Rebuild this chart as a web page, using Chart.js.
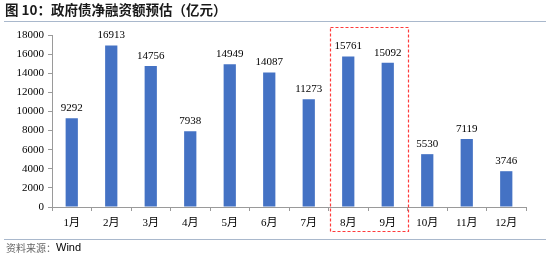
<!DOCTYPE html>
<html><head><meta charset="utf-8">
<script src="https://cdn.jsdelivr.net/npm/chart.js@4/dist/chart.umd.min.js"></script>
<style>html,body{margin:0;padding:0;background:#fff;}#wrap{position:relative;width:550px;height:259px;}</style>
</head><body><div id="wrap"><canvas id="c" width="550" height="259"></canvas></div>
<script>
const categories = ['1月','2月','3月','4月','5月','6月','7月','8月','9月','10月','11月','12月'];
const netFinancing = [9292,16913,14756,7938,14949,14087,11273,15761,15092,5530,7119,3746];
const yTicks = [0,2000,4000,6000,8000,10000,12000,14000,16000,18000];
const titleText = '图 10：政府债净融资额预估（亿元）';
const sourceText = '资料来源：';
const sourceName = 'Wind';
const highlight = ['8月','9月'];

const serif = '"Liberation Serif","Times New Roman","Noto Sans CJK SC",serif';

const decor = {
  id:'decor',
  afterDraw(chart){
    const ctx = chart.ctx;
    const x = chart.scales.x, y = chart.scales.y;
    ctx.save();
    // title
    ctx.fillStyle = '#1a1a1a';
    ctx.font = 'bold 13.5px "Noto Sans CJK SC",sans-serif';
    ctx.textBaseline = 'middle';
    ctx.textAlign = 'left';
    ctx.fillText(titleText, 5, 10);
    ctx.strokeStyle = '#a9b8cc';
    ctx.lineWidth = 1;
    ctx.beginPath(); ctx.moveTo(4, 21.5); ctx.lineTo(546, 21.5); ctx.stroke();
    ctx.beginPath(); ctx.moveTo(4, 239.5); ctx.lineTo(546, 239.5); ctx.stroke();
    // source
    ctx.font = '10px "Noto Sans CJK SC",sans-serif';
    ctx.fillStyle = '#666';
    ctx.fillText(sourceText, 6, 248);
    const w = ctx.measureText(sourceText).width;
    ctx.font = '11px "Liberation Sans",Arial,sans-serif';
    ctx.fillStyle = '#000';
    ctx.fillText(sourceName, 6 + w, 248);
    // data labels
    const meta = chart.getDatasetMeta(0);
    ctx.font = '11px ' + serif;
    ctx.fillStyle = '#000';
    ctx.textAlign = 'center';
    ctx.textBaseline = 'middle';
    meta.data.forEach((bar, i) => {
      ctx.fillText(String(netFinancing[i]), bar.x, bar.y - 10);
    });
    // highlight box
    const i0 = categories.indexOf(highlight[0]), i1 = categories.indexOf(highlight[1]);
    const half = (x.getPixelForValue(1) - x.getPixelForValue(0)) / 2;
    const left = x.getPixelForValue(i0) - half + 1;
    const right = x.getPixelForValue(i1) + half;
    ctx.strokeStyle = '#ff3b3b';
    ctx.lineWidth = 1.2;
    ctx.setLineDash([3, 2]);
    ctx.strokeRect(Math.round(left) + 0.5, 27.5, Math.round(right - left), 204);
    ctx.restore();
  }
};

new Chart(document.getElementById('c'), {
  type:'bar',
  data:{labels:categories, datasets:[{data:netFinancing, backgroundColor:'#4472C4', borderWidth:0, barPercentage:0.31, categoryPercentage:1}]},
  options:{
    responsive:false, animation:false,
    layout:{padding:{left:0, right:24, top:35, bottom:22}},
    plugins:{legend:{display:false}, tooltip:{enabled:false}, title:{display:false}},
    scales:{
      x:{
        offset:true,
        grid:{display:true, offset:true, drawOnChartArea:false, drawTicks:true, tickLength:4, color:'#9a9a9a'},
        border:{display:true, color:'#9a9a9a'},
        ticks:{color:'#000', font:{size:11, family:serif}, padding:6, maxRotation:0, autoSkip:false},
        afterFit(s){ s.height = 30; }
      },
      y:{
        min:0, max:18000,
        afterBuildTicks(s){ s.ticks = yTicks.map(v=>({value:v})); },
        grid:{display:true, drawOnChartArea:false, drawTicks:true, tickLength:4, color:'#9a9a9a'},
        border:{display:true, color:'#9a9a9a'},
        ticks:{color:'#000', font:{size:11, family:serif}, padding:4, callback:(v)=>String(v)},
        afterFit(s){ s.width = 52; }
      }
    }
  },
  plugins:[decor]
});
</script></body></html>
